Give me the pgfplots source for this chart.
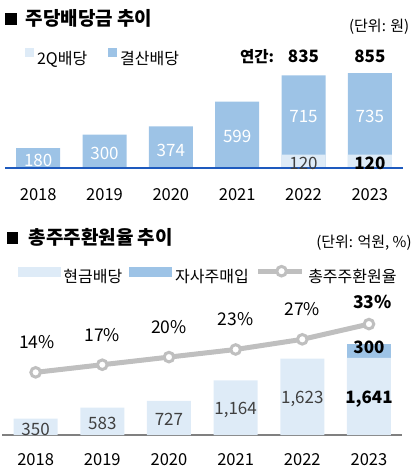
\documentclass[border=0pt]{standalone}
\usepackage{fontspec}
\setmainfont{Noto Sans CJK KR}
\usepackage{pgfplots}
\pgfplotsset{compat=1.18}
\definecolor{cmain}{HTML}{9DC3E6}
\definecolor{clight}{HTML}{DEEBF7}
\definecolor{cbase}{RGB}{30,90,190}
\definecolor{cgray}{HTML}{BFBFBF}
\definecolor{caxis}{HTML}{808080}
\definecolor{ctext}{HTML}{404040}
\newcommand{\fs}[1]{\fontsize{#1bp}{#1bp}\selectfont}
\begin{document}
\begin{tikzpicture}
\useasboundingbox (0,0) rectangle (414bp,468bp);
% ---------- titles ----------
\fill (5bp,443bp) rectangle (17bp,455bp);
\node[anchor=west, inner sep=0, font=\fs{19}\bfseries] at (25.5bp,449.5bp) {주당배당금 추이};
\node[anchor=east, inner sep=0, font=\fs{15}] at (409.5bp,441.3bp) {(단위: 원)};
\fill (6.7bp,224bp) rectangle (18.3bp,236.3bp);
\node[anchor=west, inner sep=0, font=\fs{19}\bfseries] at (28.5bp,230.5bp) {총주주환원율 추이};
\node[anchor=east, inner sep=0, font=\fs{15}] at (411.8bp,225bp) {(단위: 억원, \%)};
% ---------- top chart ----------
\begin{axis}[
  at={(5bp,300bp)}, anchor=south west,
  scale only axis, width=398bp, height=111bp,
  xmin=-0.5, xmax=5.5, ymin=0, ymax=1000,
  clip=false, axis on top,
  axis x line*=bottom, axis y line=none,
  x axis line style={draw=cbase, line width=2.6bp},
  xtick={0,1,2,3,4,5}, xticklabels={2018,2019,2020,2021,2022,2023},
  major tick length=0pt,
  xticklabel style={anchor=center, yshift=-26.2bp, font=\fs{16.5}, text=black},
  legend style={at={(0.0503,1.0)}, anchor=west, draw=none, fill=none, inner sep=0pt,
    legend columns=-1, font=\fs{16},
    nodes={inner sep=0pt},
    /tikz/every odd column/.append style={column sep=4bp},
    /tikz/every even column/.append style={column sep=21bp}},
]
\addlegendimage{legend image code/.code={\fill[clight] (0bp,2bp) rectangle (7.5bp,9.5bp);}}
\addlegendentry{2Q배당}
\addlegendimage{legend image code/.code={\fill[cmain] (0bp,2bp) rectangle (7.5bp,9.5bp);}}
\addlegendentry{결산배당}
% annual totals (결산 + 2Q)
\addplot[forget plot, ybar, bar width=44bp, bar shift=0pt, fill=cmain, draw=none]
  coordinates {(0,180) (1,300) (2,374) (3,599) (4,835) (5,855)};
% 2Q dividend
\addplot[forget plot, ybar, bar width=44bp, bar shift=0pt, fill=clight, draw=none]
  coordinates {(4,120) (5,120)};
% labels
\addplot[forget plot, draw=none, mark=none, nodes near coords, point meta=explicit symbolic,
  nodes near coords style={anchor=center, font=\fs{17}, text=white}]
  coordinates {(0,69)[180] (1,132)[300] (2,162)[374] (3,282)[599] (4,462)[715] (5,464)[735]};
\addplot[forget plot, draw=none, mark=none, nodes near coords, point meta=explicit symbolic,
  nodes near coords style={anchor=center, font=\fs{17}, text=ctext}]
  coordinates {(4,39)[120]};
\addplot[forget plot, draw=none, mark=none, nodes near coords, point meta=explicit symbolic,
  nodes near coords style={anchor=center, font=\fs{17}\bfseries, text=black}]
  coordinates {(5,39)[120] (4,1003)[835] (5,1003)[855]};
\addplot[forget plot, draw=none, mark=none, nodes near coords, point meta=explicit symbolic,
  nodes near coords style={anchor=center, font=\fs{15.5}\bfseries, text=black}]
  coordinates {(3.30,1003)[연간:]};
\end{axis}
% ---------- bottom chart: bars ----------
\begin{axis}[
  at={(2.3bp,33bp)}, anchor=south west,
  scale only axis, width=400bp, height=150bp,
  xmin=-0.5, xmax=5.5, ymin=0, ymax=3191,
  clip=false,
  axis x line*=bottom, axis y line=none,
  x axis line style={draw=caxis, line width=1.3bp},
  xtick={0,1,2,3,4,5}, xticklabels={2018,2019,2020,2021,2022,2023},
  xtick style={draw=none},
  xticklabel style={anchor=center, yshift=-25bp, font=\fs{16.5}, text=black},
  extra x ticks={-0.5,0.5,1.5,2.5,3.5,4.5,5.5},
  extra x tick labels={},
  extra x tick style={tick style={draw=caxis, line width=1.2bp}, major tick length=5bp, tick align=inside},
  legend style={at={(0.0375,1.07)}, anchor=west, draw=none, fill=none, inner sep=0pt,
    legend columns=-1, font=\fs{16},
    nodes={inner sep=0pt},
    /tikz/every odd column/.append style={column sep=3.5bp},
    /tikz/every even column/.append style={column sep=7bp}},
]
\addlegendimage{legend image code/.code={\fill[clight] (0bp,0.6bp) rectangle (42bp,9.8bp);}}
\addlegendentry{현금배당}
\addlegendimage{legend image code/.code={\fill[cmain] (0bp,0.6bp) rectangle (42bp,9.8bp);}}
\addlegendentry{자사주매입}
\addlegendimage{legend image code/.code={\draw[cgray, line width=5bp] (0bp,5.5bp) -- (44bp,5.5bp);
  \draw[cgray, line width=3bp, fill=white] (23.3bp,5.5bp) circle (4.8bp);}}
\addlegendentry{총주주환원율}
% cash dividend + buyback (2023 total 1,941)
\addplot[forget plot, ybar, bar width=44bp, bar shift=0pt, fill=cmain, draw=none]
  coordinates {(5,1941)};
\addplot[forget plot, ybar, bar width=44bp, bar shift=0pt, fill=clight, draw=none]
  coordinates {(0,350) (1,583) (2,727) (3,1164) (4,1623) (5,1641)};
\addplot[forget plot, draw=none, mark=none, nodes near coords, point meta=explicit symbolic,
  nodes near coords style={anchor=center, font=\fs{17}, text=ctext}]
  coordinates {(0,117)[350] (1,241)[583] (2,326)[727] (3,539)[{1,164}] (4,762)[{1,623}]};
\addplot[forget plot, draw=none, mark=none, nodes near coords, point meta=explicit symbolic,
  nodes near coords style={anchor=center, font=\fs{17}\bfseries, text=black}]
  coordinates {(5,762)[{1,641}] (5,1862)[300]};
\end{axis}
% ---------- bottom chart: payout ratio ----------
\begin{axis}[
  at={(2.3bp,33bp)}, anchor=south west,
  scale only axis, width=400bp, height=150bp,
  xmin=-0.5, xmax=5.5, ymin=-10.67, ymax=48.39,
  clip=false, axis lines=none,
]
\addplot[cgray, line width=5bp, mark=*, mark size=4.8bp,
  mark options={draw=cgray, fill=white, line width=3bp}]
  coordinates {(0,14) (1,17) (2,20) (3,23) (4,27) (5,33)};
\addplot[draw=none, mark=none, nodes near coords, point meta=explicit symbolic,
  nodes near coords style={anchor=center, font=\fs{17.5}, text=black}]
  coordinates {(0.02,25.75)[14\%] (1,28.78)[17\%] (2,31.65)[20\%] (3,34.80)[23\%] (4,38.86)[27\%]};
\addplot[draw=none, mark=none, nodes near coords, point meta=explicit symbolic,
  nodes near coords style={anchor=center, font=\fs{17.5}\bfseries, text=black}]
  coordinates {(5.05,41.81)[33\%]};
\end{axis}
\end{tikzpicture}
\end{document}
